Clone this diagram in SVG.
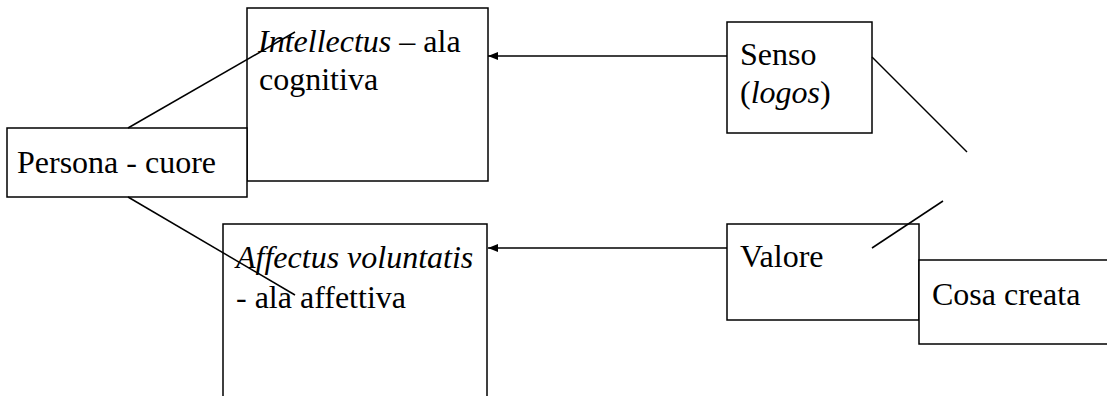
<svg xmlns="http://www.w3.org/2000/svg" width="1107" height="396" viewBox="0 0 1107 396">
  <style>
    .box { fill: #ffffff; stroke: #000000; stroke-width: 1.5; }
    .lbl { font-size: 32px; fill: #000000; }
    .it { font-style: italic; }
    .edge { stroke: #000000; stroke-width: 1.5; fill: none; }
  </style>
  <defs>
    <marker id="head" viewBox="0 0 10 8" refX="10" refY="4" markerWidth="10" markerHeight="8" markerUnits="userSpaceOnUse" orient="auto">
      <path d="M0,0 L10,4 L0,8 Z" fill="#000000"/>
    </marker>
  </defs>
  <rect width="1107" height="396" fill="#ffffff"/>

  <g font-family="Liberation Serif, Times New Roman, DejaVu Serif, serif">
  <g id="intellectus">
    <rect class="box" x="247" y="8" width="241" height="173"/>
    <text class="lbl" x="258" y="52"><tspan class="it">Intellectus</tspan> – ala</text>
    <text class="lbl" x="259" y="90">cognitiva</text>
  </g>

  <g id="persona">
    <rect class="box" x="7" y="128" width="240" height="69"/>
    <text class="lbl" x="17" y="173">Persona - cuore</text>
  </g>

  <g id="affectus">
    <rect class="box" x="223" y="224" width="264" height="180"/>
    <text class="lbl it" x="236" y="268">Affectus voluntatis</text>
    <text class="lbl" x="236" y="308">- ala affettiva</text>
  </g>

  <g id="senso">
    <rect class="box" x="727" y="22" width="145" height="111"/>
    <text class="lbl" x="740" y="65">Senso</text>
    <text class="lbl" x="740" y="103">(<tspan class="it">logos</tspan>)</text>
  </g>

  <g id="valore">
    <rect class="box" x="727" y="224" width="192" height="96"/>
    <text class="lbl" x="740" y="267">Valore</text>
  </g>

  <g id="cosa">
    <rect class="box" x="919" y="260" width="200" height="84"/>
    <text class="lbl" x="932" y="305">Cosa creata</text>
  </g>
  </g>

  <g id="connectors">
    <line class="edge" x1="727" y1="56" x2="488" y2="56" marker-end="url(#head)"/>
    <line class="edge" x1="727" y1="248" x2="488" y2="248" marker-end="url(#head)"/>
    <line class="edge" x1="128" y1="128" x2="295" y2="32"/>
    <line class="edge" x1="128" y1="197" x2="295" y2="295"/>
    <line class="edge" x1="872" y1="57" x2="967" y2="152"/>
    <line class="edge" x1="872" y1="248" x2="943" y2="201"/>
  </g>
</svg>
